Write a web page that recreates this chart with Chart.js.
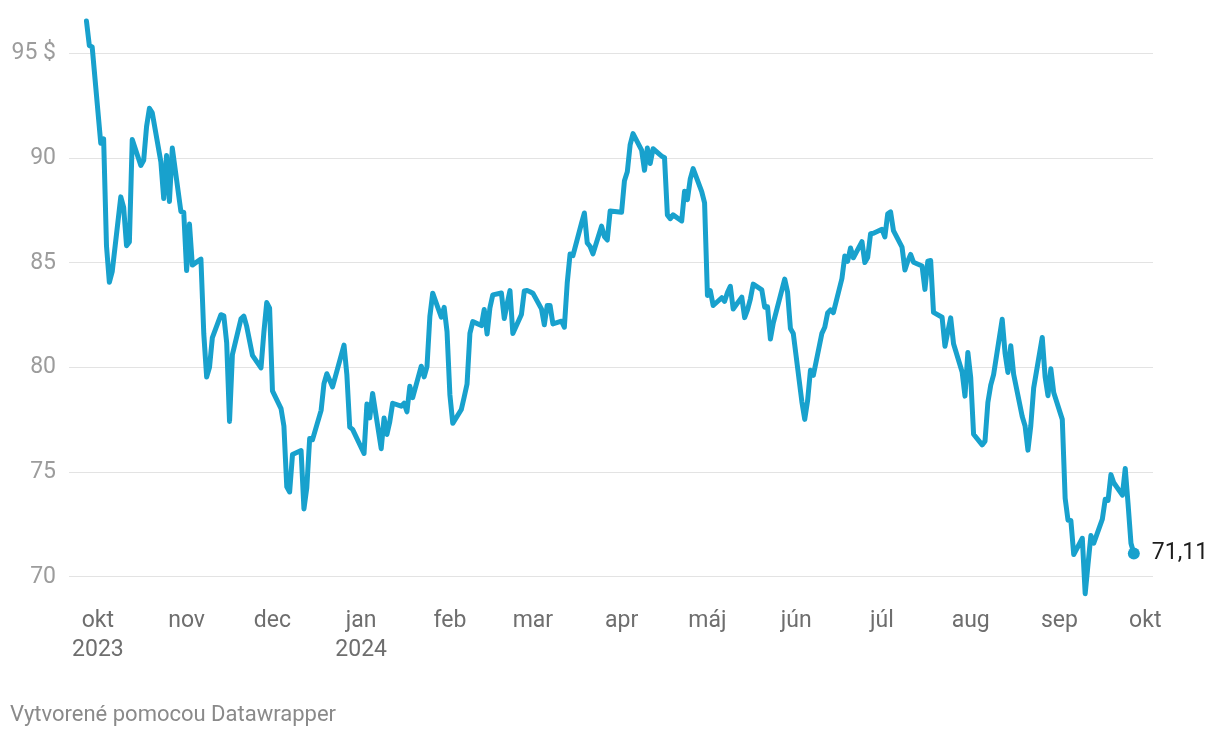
<!DOCTYPE html>
<html>
<head>
<meta charset="utf-8">
<script src="https://cdn.jsdelivr.net/npm/chart.js@4.4.1/dist/chart.umd.min.js"></script>
<style>
  html, body { margin: 0; padding: 0; background: #fff; }
  #wrap { position: relative; width: 1220px; height: 740px; }
  #footer {
    position: absolute; left: 10px; top: 701px;
    font: 22px Roboto, sans-serif; color: #8a8a8a;
  }
</style>
</head>
<body>
<div id="wrap">
  <canvas id="chart" width="1220" height="740"></canvas>
  <div id="footer">Vytvorené pomocou Datawrapper</div>
</div>
<script>
// trading days and closing prices (USD per barrel)
const dates = [
  '2023-09-27','2023-09-28','2023-09-29',
  '2023-10-02','2023-10-03','2023-10-04','2023-10-05','2023-10-06','2023-10-09','2023-10-10','2023-10-11','2023-10-12','2023-10-13',
  '2023-10-16','2023-10-17','2023-10-18','2023-10-19','2023-10-20','2023-10-23','2023-10-24','2023-10-25','2023-10-26','2023-10-27',
  '2023-10-30','2023-10-31',
  '2023-11-01','2023-11-02','2023-11-03','2023-11-06','2023-11-07','2023-11-08','2023-11-09','2023-11-10','2023-11-13','2023-11-14',
  '2023-11-15','2023-11-16','2023-11-17','2023-11-20','2023-11-21','2023-11-22','2023-11-24','2023-11-27','2023-11-28','2023-11-29','2023-11-30',
  '2023-12-01','2023-12-04','2023-12-05','2023-12-06','2023-12-07','2023-12-08','2023-12-11','2023-12-12','2023-12-13','2023-12-14',
  '2023-12-15','2023-12-18','2023-12-19','2023-12-20','2023-12-21','2023-12-22','2023-12-26','2023-12-27','2023-12-28','2023-12-29',
  '2024-01-02','2024-01-03','2024-01-04','2024-01-05','2024-01-08','2024-01-09','2024-01-10','2024-01-11','2024-01-12','2024-01-15',
  '2024-01-16','2024-01-17','2024-01-18','2024-01-19','2024-01-22','2024-01-23','2024-01-24','2024-01-25','2024-01-26','2024-01-29',
  '2024-01-30','2024-01-31',
  '2024-02-01','2024-02-02','2024-02-05','2024-02-06','2024-02-07','2024-02-08','2024-02-09','2024-02-12','2024-02-13','2024-02-14',
  '2024-02-15','2024-02-16','2024-02-19','2024-02-20','2024-02-21','2024-02-22','2024-02-23','2024-02-26','2024-02-27','2024-02-28','2024-02-29',
  '2024-03-01','2024-03-04','2024-03-05','2024-03-06','2024-03-07','2024-03-08','2024-03-11','2024-03-12','2024-03-13','2024-03-14',
  '2024-03-15','2024-03-18','2024-03-19','2024-03-20','2024-03-21','2024-03-22','2024-03-25','2024-03-26','2024-03-27','2024-03-28',
  '2024-04-01','2024-04-02','2024-04-03','2024-04-04','2024-04-05','2024-04-08','2024-04-09','2024-04-10','2024-04-11','2024-04-12',
  '2024-04-15','2024-04-16','2024-04-17','2024-04-18','2024-04-19','2024-04-22','2024-04-23','2024-04-24','2024-04-25','2024-04-26',
  '2024-04-29','2024-04-30',
  '2024-05-01','2024-05-02','2024-05-03','2024-05-06','2024-05-07','2024-05-08','2024-05-09','2024-05-10','2024-05-13','2024-05-14',
  '2024-05-15','2024-05-16','2024-05-17','2024-05-20','2024-05-21','2024-05-22','2024-05-23','2024-05-24','2024-05-28','2024-05-29',
  '2024-05-30','2024-05-31',
  '2024-06-03','2024-06-04','2024-06-05','2024-06-06','2024-06-07','2024-06-10','2024-06-11','2024-06-12','2024-06-13','2024-06-14',
  '2024-06-17','2024-06-18','2024-06-19','2024-06-20','2024-06-21','2024-06-24','2024-06-25','2024-06-26','2024-06-27','2024-06-28',
  '2024-07-01','2024-07-02','2024-07-03','2024-07-04','2024-07-05','2024-07-08','2024-07-09','2024-07-10','2024-07-11','2024-07-12',
  '2024-07-15','2024-07-16','2024-07-17','2024-07-18','2024-07-19','2024-07-22','2024-07-23','2024-07-24','2024-07-25','2024-07-26',
  '2024-07-29','2024-07-30','2024-07-31',
  '2024-08-01','2024-08-02','2024-08-05','2024-08-06','2024-08-07','2024-08-08','2024-08-09','2024-08-12','2024-08-13','2024-08-14',
  '2024-08-15','2024-08-16','2024-08-19','2024-08-20','2024-08-21','2024-08-22','2024-08-23','2024-08-26','2024-08-27','2024-08-28',
  '2024-08-29','2024-08-30',
  '2024-09-02','2024-09-03','2024-09-04','2024-09-05','2024-09-06','2024-09-09','2024-09-10','2024-09-11','2024-09-12','2024-09-13',
  '2024-09-16','2024-09-17','2024-09-18','2024-09-19','2024-09-20','2024-09-23','2024-09-24','2024-09-25','2024-09-26','2024-09-27'
];

const prices = [
  96.55, 95.38, 95.31,
  90.71, 90.92, 85.81, 84.07, 84.58, 88.15, 87.65, 85.82, 86.00, 90.89,
  89.65, 89.90, 91.50, 92.38, 92.16, 89.83, 88.07, 90.13, 87.93, 90.48,
  87.45, 87.41,
  84.63, 86.85, 84.89, 85.18, 81.61, 79.54, 80.01, 81.43, 82.52, 82.47,
  81.18, 77.42, 80.61, 82.32, 82.45, 81.96, 80.58, 79.98, 81.68, 83.10, 82.83,
  78.88, 78.03, 77.20, 74.30, 74.05, 75.84, 76.03, 73.24, 74.26, 76.61,
  76.55, 77.95, 79.23, 79.70, 79.39, 79.07, 81.07, 79.65, 77.15, 77.04,
  75.89, 78.25, 77.59, 78.76, 76.12, 77.59, 76.80, 77.41, 78.29, 78.15,
  78.29, 77.88, 79.10, 78.56, 80.06, 79.55, 80.04, 82.43, 83.55, 82.40,
  82.87, 81.71,
  78.70, 77.33, 77.99, 78.59, 79.21, 81.63, 82.19, 82.00, 82.77, 81.60,
  82.86, 83.47, 83.56, 82.34, 83.03, 83.67, 81.62, 82.53, 83.65, 83.68, 83.62,
  83.55, 82.80, 82.04, 82.96, 82.96, 82.08, 82.21, 81.92, 84.03, 85.42,
  85.34, 86.89, 87.38, 85.95, 85.78, 85.43, 86.75, 86.25, 86.09, 87.48,
  87.42, 88.92, 89.35, 90.65, 91.17, 90.38, 89.42, 90.48, 89.74, 90.45,
  90.10, 90.02, 87.29, 87.11, 87.29, 87.00, 88.42, 88.02, 89.01, 89.50,
  88.40, 87.86,
  83.44, 83.67, 82.96, 83.33, 83.16, 83.58, 83.88, 82.79, 83.36, 82.38,
  82.75, 83.27, 83.98, 83.71, 82.88, 82.90, 81.36, 82.12, 84.22, 83.60,
  81.86, 81.62,
  78.36, 77.52, 78.41, 79.87, 79.62, 81.63, 81.92, 82.60, 82.75, 82.62,
  84.25, 85.33, 85.07, 85.71, 85.24, 86.01, 85.01, 85.25, 86.39, 86.41,
  86.60, 86.24, 87.34, 87.43, 86.54, 85.75, 84.66, 85.08, 85.40, 85.03,
  84.85, 83.73, 85.08, 85.11, 82.63, 82.40, 81.01, 81.71, 82.37, 81.13,
  79.78, 78.63, 80.72,
  79.52, 76.81, 76.30, 76.48, 78.33, 79.16, 79.66, 82.30, 80.69, 79.76,
  81.04, 79.68, 77.66, 77.20, 76.05, 77.22, 79.02, 81.43, 79.55, 78.65,
  79.94, 78.80,
  77.52, 73.75, 72.70, 72.69, 71.06, 71.84, 69.19, 70.61, 71.97, 71.61,
  72.75, 73.70, 73.65, 74.88, 74.49, 73.90, 75.17, 73.46, 71.60, 71.11
];

// month starts shown on the x axis
const monthTicks = ['2023-10-01','2023-11-01','2023-12-01','2024-01-01','2024-02-01','2024-03-01',
  '2024-04-01','2024-05-01','2024-06-01','2024-07-01','2024-08-01','2024-09-01','2024-10-01'];
const monthLabels = [['okt','2023'],'nov','dec',['jan','2024'],'feb','mar','apr','máj','jún','júl','aug','sep','okt'];

const yTicks = [70, 75, 80, 85, 90, 95];

const BLUE = '#18a1cd';
const origin = Date.UTC(2023, 9, 1);
const dayOf = s => {
  const [y, m, d] = s.split('-').map(Number);
  return (Date.UTC(y, m - 1, d) - origin) / 86400000;
};

const points = dates.map((d, i) => ({ x: dayOf(d), y: prices[i] }));
const lastIdx = prices.length - 1;

const lastLabel = {
  id: 'lastLabel',
  afterDatasetsDraw(chart) {
    const pt = chart.getDatasetMeta(0).data[lastIdx];
    const ctx = chart.ctx;
    ctx.save();
    ctx.font = '23px Roboto, sans-serif';
    ctx.fillStyle = '#1d1d1d';
    ctx.textBaseline = 'middle';
    ctx.fillText(prices[lastIdx].toFixed(2).replace('.', ','), pt.x + 18, pt.y);
    ctx.restore();
  }
};

new Chart(document.getElementById('chart'), {
  type: 'line',
  data: {
    datasets: [{
      data: points,
      borderColor: BLUE,
      borderWidth: 5,
      borderJoinStyle: 'round',
      borderCapStyle: 'round',
      tension: 0,
      clip: false,
      pointRadius: ctx => ctx.dataIndex === lastIdx ? 6 : 0,
      pointHoverRadius: 0,
      pointBackgroundColor: BLUE,
      pointBorderWidth: 0
    }]
  },
  options: {
    responsive: false,
    animation: false,
    events: [],
    layout: { padding: { top: 20, right: 67, left: 0, bottom: 0 } },
    plugins: { legend: { display: false }, tooltip: { enabled: false } },
    scales: {
      x: {
        type: 'linear',
        min: -10.1,
        max: 368.7,
        afterBuildTicks: scale => { scale.ticks = monthTicks.map(d => ({ value: dayOf(d) })); },
        afterFit: scale => { scale.height = 142.3; },
        grid: { display: false, drawTicks: false },
        border: { display: false },
        ticks: {
          autoSkip: false,
          maxRotation: 0,
          padding: 9,
          color: '#6e6e6e',
          font: { family: 'Roboto', size: 23, lineHeight: 29 / 23 },
          callback: (v, i) => monthLabels[i]
        }
      },
      y: {
        min: 69,
        max: 96.6,
        afterBuildTicks: scale => { scale.ticks = yTicks.map(v => ({ value: v })); },
        afterFit: scale => {
          scale.width = 69;
          scale.paddingTop = 0;
          scale.paddingBottom = 0;
        },
        grid: { color: '#e3e3e3', lineWidth: 1, drawTicks: false },
        border: { display: false },
        ticks: {
          padding: 13,
          color: '#9c9c9c',
          font: { family: 'Roboto', size: 23 },
          callback: v => v === 95 ? '95 $' : String(v)
        }
      }
    }
  },
  plugins: [lastLabel]
});
</script>
</body>
</html>
